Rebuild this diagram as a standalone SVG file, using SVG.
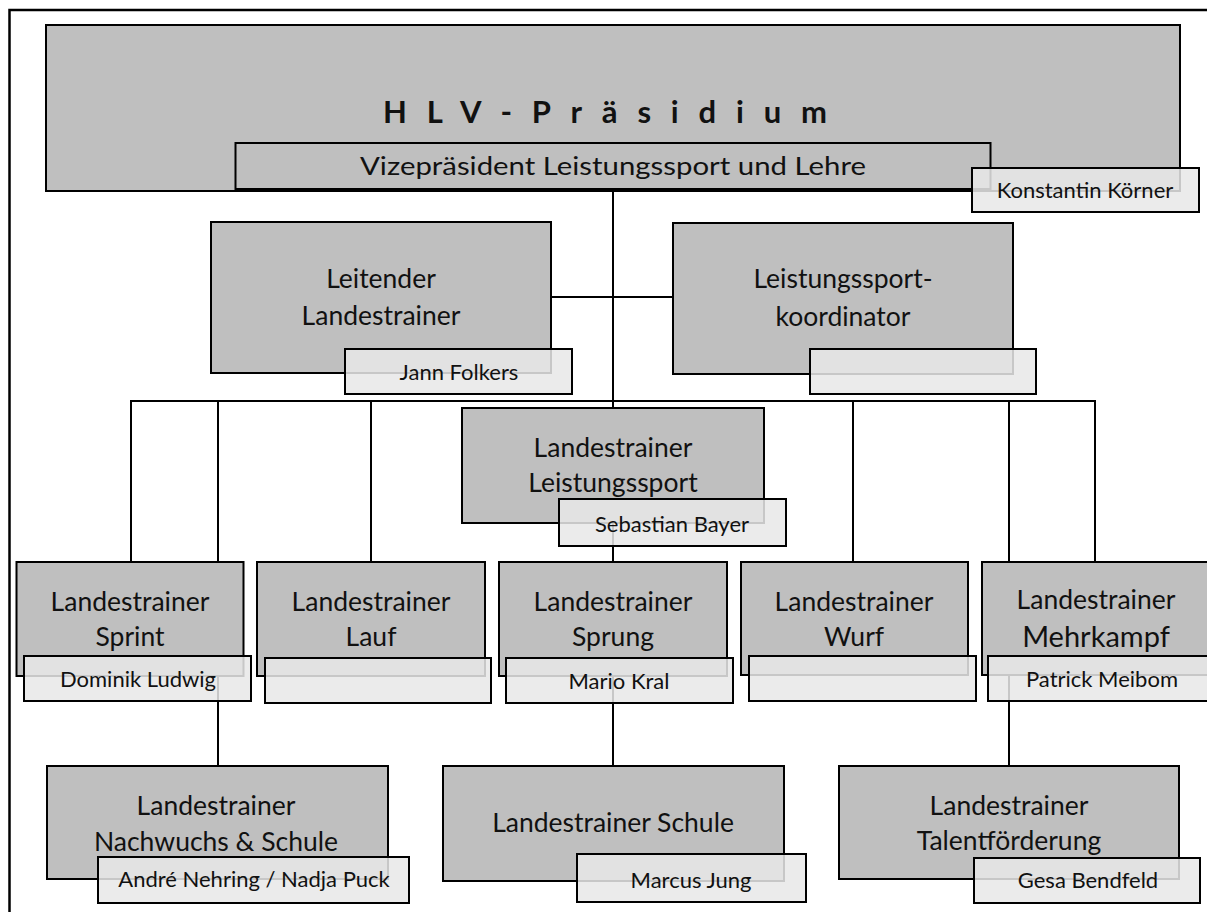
<svg xmlns="http://www.w3.org/2000/svg" width="1207" height="912" viewBox="0 0 1207 912">
<style>
.box{fill:#bfbfbf;stroke:#000;stroke-width:2}
.name{fill:#e8e8e8;fill-opacity:0.86;stroke:#000;stroke-width:2}
.ln{fill:none;stroke:#000;stroke-width:2}
text{font-family:Lato,"Liberation Sans",sans-serif;fill:#111;text-anchor:middle}
.t{font-size:26.5px}
.n{font-size:22px}
</style>
<rect width="1207" height="912" fill="#fff"/>
<path d="M9.5,912 V10 H1207" fill="none" stroke="#000" stroke-width="2.5"/>
<g id="connectors">
<path class="ln" d="M613,189 V766"/>
<path class="ln" d="M551,297 H673"/>
<path class="ln" d="M131,562 V401 H1095 V562"/>
<path class="ln" d="M218,401 V766"/>
<path class="ln" d="M371,401 V562"/>
<path class="ln" d="M853,401 V562"/>
<path class="ln" d="M1009,401 V766"/>
</g>
<g id="praesidium">
<rect class="box" x="46" y="25" width="1134" height="166"/>
<text x="383" y="123" style="font-size:31px;font-weight:bold;text-anchor:start" textLength="444" lengthAdjust="spacing">HLV-Präsidium</text>
</g>
<g id="vizepraesident">
<rect class="box" x="235.5" y="143" width="755" height="46"/>
<text x="613" y="174.5" style="font-size:25px" textLength="506" lengthAdjust="spacingAndGlyphs">Vizepräsident Leistungssport und Lehre</text>
<rect class="name" x="972" y="168" width="227" height="44"/>
<text class="n" x="1085" y="198">Konstantin Körner</text>
</g>
<g id="leitender">
<rect class="box" x="211" y="222" width="340" height="151"/>
<text class="t" x="381" y="288">Leitender</text>
<text class="t" x="381" y="325">Landestrainer</text>
<rect class="name" x="345" y="349" width="227" height="45"/>
<text class="n" x="459" y="380">Jann Folkers</text>
</g>
<g id="koordinator">
<rect class="box" x="673" y="223" width="340" height="151"/>
<text class="t" x="843" y="288">Leistungssport-</text>
<text class="t" x="843" y="326">koordinator</text>
<rect class="name" x="810" y="349" width="226" height="45"/>
</g>
<g id="leistungssport">
<rect class="box" x="462" y="408" width="302" height="115"/>
<text class="t" x="613" y="457">Landestrainer</text>
<text class="t" x="613" y="492">Leistungssport</text>
<rect class="name" x="559" y="499" width="227" height="47"/>
<text class="n" x="672" y="532">Sebastian Bayer</text>
</g>
<g id="sprint">
<rect class="box" x="16.5" y="562" width="227" height="114"/>
<text class="t" x="130" y="611">Landestrainer</text>
<text class="t" x="130" y="646">Sprint</text>
<rect class="name" x="24" y="656" width="227" height="45"/>
<text class="n" x="138" y="687">Dominik Ludwig</text>
</g>
<g id="lauf">
<rect class="box" x="257" y="562" width="228" height="114"/>
<text class="t" x="371" y="611">Landestrainer</text>
<text class="t" x="371" y="646">Lauf</text>
<rect class="name" x="265" y="658" width="226" height="45"/>
</g>
<g id="sprung">
<rect class="box" x="499" y="562" width="228" height="114"/>
<text class="t" x="613" y="611">Landestrainer</text>
<text class="t" x="613" y="646">Sprung</text>
<rect class="name" x="506" y="658" width="227" height="45"/>
<text class="n" x="619" y="689">Mario Kral</text>
</g>
<g id="wurf">
<rect class="box" x="741" y="562" width="227" height="113"/>
<text class="t" x="854" y="611">Landestrainer</text>
<text class="t" x="854" y="646">Wurf</text>
<rect class="name" x="749" y="656" width="227" height="45"/>
</g>
<g id="mehrkampf">
<rect class="box" x="982" y="562" width="227" height="113"/>
<text class="t" x="1096" y="609">Landestrainer</text>
<text x="1096" y="647" style="font-size:29px">Mehrkampf</text>
<rect class="name" x="988" y="656" width="227" height="45"/>
<text class="n" x="1102" y="687">Patrick Meibom</text>
</g>
<g id="nachwuchs">
<rect class="box" x="47" y="766" width="341" height="113"/>
<text class="t" x="216" y="815">Landestrainer</text>
<text class="t" x="216" y="851">Nachwuchs &amp; Schule</text>
<rect class="name" x="98" y="857" width="311" height="46"/>
<text class="n" x="254" y="887">André Nehring / Nadja Puck</text>
</g>
<g id="schule">
<rect class="box" x="443" y="766" width="341" height="115"/>
<text class="t" x="613" y="832">Landestrainer Schule</text>
<rect class="name" x="577" y="854" width="229" height="48"/>
<text class="n" x="691" y="888">Marcus Jung</text>
</g>
<g id="talent">
<rect class="box" x="839" y="766" width="340" height="113"/>
<text class="t" x="1009" y="815">Landestrainer</text>
<text class="t" x="1009" y="850">Talentförderung</text>
<rect class="name" x="974" y="858" width="226" height="45"/>
<text class="n" x="1088" y="888">Gesa Bendfeld</text>
</g>
</svg>
